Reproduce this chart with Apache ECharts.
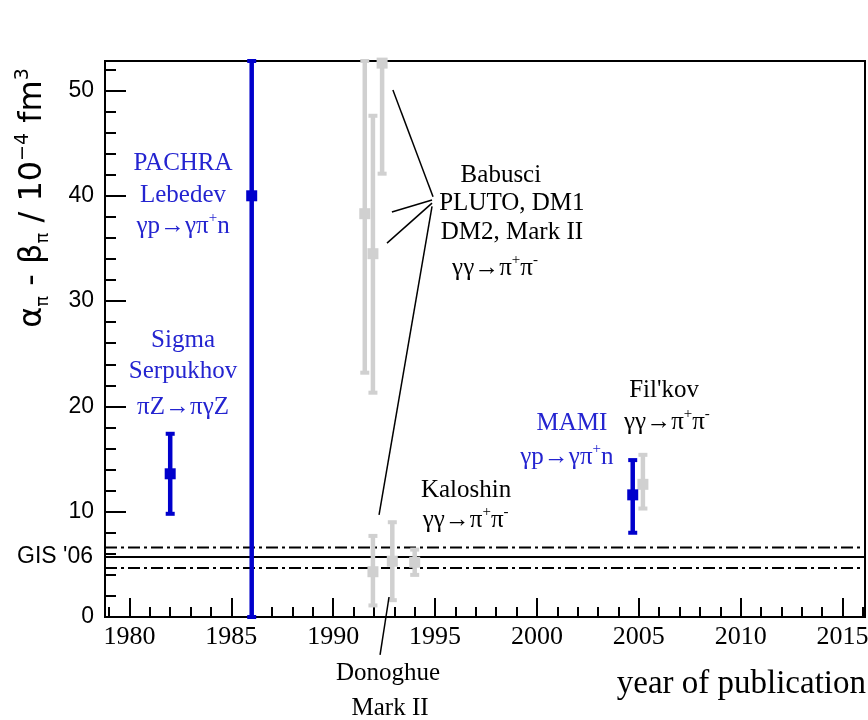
<!DOCTYPE html>
<html><head><meta charset="utf-8">
<script src="https://cdn.jsdelivr.net/npm/echarts@6/dist/echarts.min.js"></script>
<style>html,body{margin:0;padding:0;background:#fff}#c{width:868px;height:720px}</style>
</head><body><div id="c"></div>
<script>
// ---------- data ----------
const blueYears  = [1982.0, 1986.0, 2004.7];
const blueValues = [13.6, 40.0, 11.6];
const blueLow    = [9.8, 0.0, 8.0];
const blueHigh   = [17.4, 52.8, 14.9];

const grayYears  = [1991.55, 1991.95, 1992.4, 1991.95, 1992.9, 1994.0, 2005.2];
const grayValues = [38.3, 34.5, 52.6, 4.3, 5.3, 5.2, 12.6];
const grayLow    = [23.2, 21.3, 42.1, 1.1, 1.6, 4.0, 10.3];
const grayHigh   = [52.8, 47.6, 52.8, 7.7, 9.0, 6.4, 15.4];

const gisCentral = 5.7;
const gisUpper = 6.6;
const gisLower = 4.65;

const xMin = 1978.8, xMax = 2016.1;
const yMin = 0, yMax = 52.8;
const xMajorTicks = [1980, 1985, 1990, 1995, 2000, 2005, 2010, 2015];
const xMinorTicks = [1979, 1981, 1982, 1983, 1984, 1986, 1987, 1988, 1989, 1991, 1992, 1993, 1994,
  1996, 1997, 1998, 1999, 2001, 2002, 2003, 2004, 2006, 2007, 2008, 2009, 2011, 2012, 2013, 2014, 2016];
const yMajorTicks = [0, 10, 20, 30, 40, 50];
const yMinorTicks = [2, 4, 6, 8, 12, 14, 16, 18, 22, 24, 26, 28, 32, 34, 36, 38, 42, 44, 46, 48, 52];

// ---------- styles ----------
const BLUE = '#0000cc', BLUE_TXT = '#2424d0', GRAY = '#d0d0d0';
const SERIF = '"Liberation Serif", "DejaVu Serif", serif';
const SANS = '"Liberation Sans", "DejaVu Sans", sans-serif';
const WIDE_SANS = '"DejaVu Sans", "Liberation Sans", sans-serif';

function errBars(name, years, vals, lo, hi, color, lw, capW, mk) {
  return {
    name, type: 'custom', xAxisIndex: 0, yAxisIndex: 0, silent: true, z: 5,
    encode: { x: 0, y: 1 },
    data: years.map((y, i) => [y, vals[i], lo[i], hi[i]]),
    renderItem(params, api) {
      const x = api.value(0);
      const c = api.coord([x, api.value(1)]);
      const l = api.coord([x, api.value(2)]);
      const h = api.coord([x, api.value(3)]);
      return { type: 'group', children: [
        { type: 'line', shape: { x1: c[0], y1: l[1], x2: c[0], y2: h[1] }, style: { stroke: color, lineWidth: lw } },
        { type: 'rect', shape: { x: c[0] - capW / 2, y: l[1] - 2, width: capW, height: 4 }, style: { fill: color } },
        { type: 'rect', shape: { x: c[0] - capW / 2, y: h[1] - 2, width: capW, height: 4 }, style: { fill: color } },
        { type: 'rect', shape: { x: c[0] - mk / 2, y: c[1] - mk / 2, width: mk, height: mk }, style: { fill: color } }
      ]};
    }
  };
}

function hLine(v, type) {
  return {
    type: 'line', xAxisIndex: 0, yAxisIndex: 0, silent: true, symbol: 'none', z: 3,
    data: [[xMin, v], [xMax, v]],
    lineStyle: { color: '#000', width: 2, type: type }
  };
}

const chart = echarts.init(document.getElementById('c'), null, { renderer: 'canvas' });

const axBase = { type: 'value', splitLine: { show: false } };
chart.setOption({
  animation: false,
  backgroundColor: '#fff',
  grid: { left: 105, right: 3, top: 61, bottom: 103, show: true, borderColor: '#000', borderWidth: 2,
          backgroundColor: 'transparent', outerBoundsMode: 'none', containLabel: false },
  xAxis: [
    Object.assign({}, axBase, {
      min: xMin, max: xMax, position: 'bottom',
      axisLine: { show: true, onZero: false, lineStyle: { color: '#000', width: 2 } },
      axisTick: { show: true, inside: true, length: 19, customValues: xMajorTicks, lineStyle: { color: '#000', width: 2 } },
      axisLabel: { show: true, customValues: xMajorTicks, margin: 7, color: '#000', fontFamily: SERIF, fontSize: 26,
                   formatter: v => String(v) }
    }),
    Object.assign({}, axBase, {
      min: xMin, max: xMax, position: 'bottom',
      axisLine: { show: false },
      axisTick: { show: true, inside: true, length: 10, customValues: xMinorTicks, lineStyle: { color: '#000', width: 2 } },
      axisLabel: { show: false }
    })
  ],
  yAxis: [
    Object.assign({}, axBase, {
      min: yMin, max: yMax, position: 'left',
      axisLine: { show: true, onZero: false, lineStyle: { color: '#000', width: 2 } },
      axisTick: { show: true, inside: true, length: 21, customValues: yMajorTicks, lineStyle: { color: '#000', width: 2 } },
      axisLabel: { show: true, customValues: yMajorTicks, margin: 11, color: '#000', fontFamily: SANS, fontSize: 23,
                   formatter: v => String(v) }
    }),
    Object.assign({}, axBase, {
      min: yMin, max: yMax, position: 'left',
      axisLine: { show: false },
      axisTick: { show: true, inside: true, length: 11, customValues: yMinorTicks, lineStyle: { color: '#000', width: 2 } },
      axisLabel: { show: false }
    })
  ],
  series: [
    hLine(gisUpper, [12, 4, 3, 4]),
    hLine(gisCentral, 'solid'),
    hLine(gisLower, [12, 4, 3, 4]),
    errBars('gray', grayYears, grayValues, grayLow, grayHigh, GRAY, 4.5, 9, 11),
    errBars('blue', blueYears, blueValues, blueLow, blueHigh, BLUE, 4.5, 9, 11)
  ]
});

// ---------- annotations (data coordinates) ----------
const P = (x, y) => chart.convertToPixel({ xAxisIndex: 0, yAxisIndex: 0 }, [x, y]);
const leaders = [
  [[1994.9, 39.9], [1992.93, 50.05]],
  [[1994.85, 39.6], [1992.88, 38.46]],
  [[1994.85, 39.3], [1992.64, 35.5]],
  [[1994.85, 39.0], [1992.25, 9.69]],
  [[1992.74, 1.9], [1992.3, -3.6]]
];
const sup = (s) => '{s|' + s + '}';
const annos = [
  ['{a|PACHRA}', 1982.63, 43.1, BLUE_TXT],
  ['{a|Lebedev}', 1982.63, 40.08, BLUE_TXT],
  ['{a|γp→γπ}' + sup('+') + '{a|n}', 1982.63, 37.13, BLUE_TXT],
  ['{a|Sigma}', 1982.63, 26.3, BLUE_TXT],
  ['{a|Serpukhov}', 1982.63, 23.36, BLUE_TXT],
  ['{a|πZ→πγZ}', 1982.63, 19.94, BLUE_TXT],
  ['{a|Babusci}', 1998.23, 41.98, '#000'],
  ['{a|PLUTO, DM1}', 1998.77, 39.3, '#000'],
  ['{a|DM2, Mark II}', 1998.77, 36.56, '#000'],
  ['{a|γγ→π}' + sup('+') + '{a|π}' + sup('-'), 1997.94, 33.14, '#000'],
  ['{a|Kaloshin}', 1996.52, 12.06, '#000'],
  ['{a|γγ→π}' + sup('+') + '{a|π}' + sup('-'), 1996.5, 9.21, '#000'],
  ["{a|Fil'kov}", 2006.24, 21.56, '#000'],
  ['{a|γγ→π}' + sup('+') + '{a|π}' + sup('-'), 2006.38, 18.52, '#000'],
  ['{a|MAMI}', 2001.72, 18.42, BLUE_TXT],
  ['{a|γp→γπ}' + sup('+') + '{a|n}', 2001.47, 15.19, BLUE_TXT],
  ['{a|Donoghue}', 1992.69, -5.32, '#000'],
  ['{a|Mark II}', 1992.79, -8.64, '#000']
];
const graphics = [];
leaders.forEach(([a, b]) => {
  const p1 = P(a[0], a[1]), p2 = P(b[0], b[1]);
  graphics.push({ type: 'line', silent: true, z: 10, shape: { x1: p1[0], y1: p1[1], x2: p2[0], y2: p2[1] }, style: { stroke: '#000', lineWidth: 1.5 } });
});
annos.forEach(([t, x, y, col]) => {
  const p = P(x, y);
  graphics.push({ type: 'text', silent: true, z: 10, x: p[0], y: p[1], style: {
    text: t, textAlign: 'center', textVerticalAlign: 'middle',
    rich: {
      a: { fontFamily: SERIF, fontSize: 25, lineHeight: 30, fill: col, color: col },
      s: { fontFamily: SERIF, fontSize: 15, lineHeight: 15, verticalAlign: 'top', fill: col, color: col }
    }
  }});
});
// GIS '06 label at the central line level
const g = P(xMin, gisCentral);
graphics.push({ type: 'text', silent: true, x: g[0] - 12, y: g[1], style: {
  text: "GIS '06", textAlign: 'right', textVerticalAlign: 'middle', font: '23px ' + SANS, fill: '#000' } });
// axis titles
graphics.push({ type: 'text', silent: true, x: 866, y: 684, style: {
  text: 'year of publication', textAlign: 'right', textVerticalAlign: 'middle', font: '33px ' + SERIF, fill: '#000' } });
graphics.push({ type: 'text', silent: true, x: 33, y: 198, rotation: Math.PI / 2, style: {
  text: '{a|α}{b|π}{a| - β}{b|π}{a| / 10}{c|−4}{a| fm}{c|3}', textAlign: 'center', textVerticalAlign: 'middle',
  rich: {
    a: { fontFamily: WIDE_SANS, fontSize: 32, lineHeight: 38, fill: '#000' },
    b: { fontFamily: WIDE_SANS, fontSize: 18, lineHeight: 18, verticalAlign: 'bottom', fill: '#000' },
    c: { fontFamily: WIDE_SANS, fontSize: 19, lineHeight: 19, verticalAlign: 'top', fill: '#000' }
  }
}});
chart.setOption({ graphic: graphics });
</script>
</body></html>
